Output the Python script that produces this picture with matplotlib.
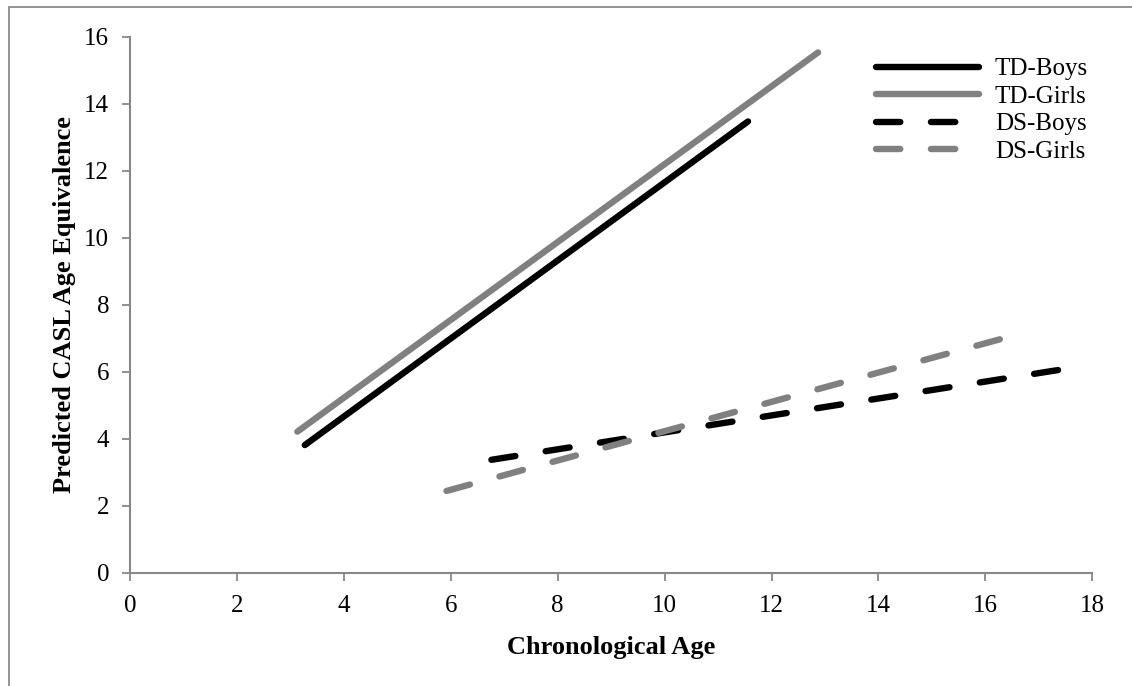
import matplotlib
matplotlib.use("Agg")
import matplotlib.pyplot as plt
from matplotlib.patches import Rectangle

plt.rcParams['font.family'] = ['Liberation Serif', 'DejaVu Serif']

# Data (regression line end points)
series_names = ["TD-Boys", "TD-Girls", "DS-Boys", "DS-Girls"]
td_boys_x = [3.27, 11.56]
td_boys_y = [3.81, 13.47]
td_girls_x = [3.13, 12.87]
td_girls_y = [4.21, 15.53]
ds_boys_x = [6.76, 17.64]
ds_boys_y = [3.37, 6.12]
ds_girls_x = [5.92, 16.30]
ds_girls_y = [2.44, 6.98]
x_ticks = [0, 2, 4, 6, 8, 10, 12, 14, 16, 18]
y_ticks = [0, 2, 4, 6, 8, 10, 12, 14, 16]

W, H = 1132, 686
fig = plt.figure(figsize=(W / 100, H / 100), dpi=100)
ax = fig.add_axes([130 / W, 1 - 572.7 / H, (1092.3 - 130) / W, (572.7 - 36.7) / H])

# outer frame (cut off at right/bottom in reference)
fig.patches.append(Rectangle((9 / W, -0.05), 1.2, 1 - 7 / H + 0.05,
                             transform=fig.transFigure, fill=False,
                             edgecolor='#8a8a8a', linewidth=1.3))

lw = 4.6
black = '#000000'
gray = '#808080'
ax.plot(td_boys_x, td_boys_y, color=black, lw=lw, solid_capstyle='round', label=series_names[0])
ax.plot(td_girls_x, td_girls_y, color=gray, lw=lw, solid_capstyle='round', label=series_names[1])
ax.plot(ds_boys_x, ds_boys_y, color=black, lw=lw, dash_capstyle='round',
        dashes=(3.8, 4.8), label=series_names[2])
ax.plot(ds_girls_x, ds_girls_y, color=gray, lw=lw, dash_capstyle='round',
        dashes=(3.8, 4.8), label=series_names[3])

ax.set_xlim(0, 18)
ax.set_ylim(0, 16)
ax.set_xticks(x_ticks)
ax.set_yticks(y_ticks)
ax.tick_params(axis='both', labelsize=18, colors='#888888', labelcolor='black',
               length=6, width=1.3, direction='out')
ax.tick_params(axis='x', pad=10)
ax.tick_params(axis='y', pad=9)
for s in ['top', 'right']:
    ax.spines[s].set_visible(False)
for s in ['left', 'bottom']:
    ax.spines[s].set_color('#888888')
    ax.spines[s].set_linewidth(1.5)

ax.set_xlabel("Chronological Age", fontsize=19, fontweight='bold', labelpad=14)
ax.set_ylabel("Predicted CASL Age Equivalence", fontsize=19, fontweight='bold', labelpad=6)

leg = ax.legend(loc='upper left', bbox_to_anchor=(0.765, 0.979), frameon=False,
                fontsize=18, handlelength=4.1, handletextpad=0.65,
                labelspacing=0.2, borderaxespad=0)

fig.savefig("out.png", dpi=100)
